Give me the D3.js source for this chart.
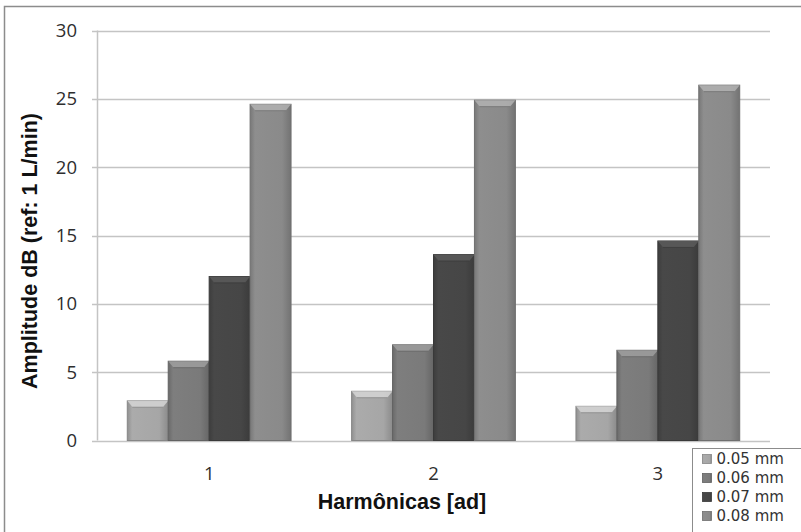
<!doctype html>
<html>
<head>
    <meta charset="utf-8">
    <title>Harmônicas</title>
    <style>
        body { margin: 0; background: #fff; }
        svg { display: block; }
        .tick-label { font-family: "Open Sans", sans-serif; font-size: 18.5px; fill: #2e2e2e; }
        .axis-title { font-family: "Liberation Sans", Arial, sans-serif; font-weight: bold; font-size: 21.5px; fill: #111; }
        .legend-label { font-family: "DejaVu Sans", sans-serif; font-size: 15px; fill: #333; }
    </style>
</head>
<body>
    <div id="chart"></div>

    <script src="https://cdn.jsdelivr.net/npm/d3@7"></script>
    <script>
        var categories = ['1', '2', '3'];
        var series = ['0.05 mm', '0.06 mm', '0.07 mm', '0.08 mm'];
        var values = [
            [2.9, 5.8, 12.0, 24.6],
            [3.6, 7.0, 13.6, 24.9],
            [2.5, 6.6, 14.6, 26.0]
        ];
        var yTicks = [0, 5, 10, 15, 20, 25, 30];
        var colors = ['#a6a6a6', '#7a7a7a', '#464646', '#8a8a8a'];

        var svg_width = 801;
        var svg_height = 532;
        var plot = { left: 97, right: 770, top: 30.5, bottom: 440.5 };

        var svg = d3.select('#chart').append('svg')
            .attr('width', svg_width)
            .attr('height', svg_height);

        var defs = svg.append('defs');

        // horizontal shading for each bar colour
        colors.forEach(function(c, i) {
            var base = d3.color(c);
            var g = defs.append('linearGradient')
                .attr('id', 'grad' + i)
                .attr('x1', '0').attr('x2', '1').attr('y1', '0').attr('y2', '0');
            g.append('stop').attr('offset', '0%').attr('stop-color', base.darker(0.4));
            g.append('stop').attr('offset', '12%').attr('stop-color', base.brighter(0.08));
            g.append('stop').attr('offset', '78%').attr('stop-color', base);
            g.append('stop').attr('offset', '100%').attr('stop-color', base.darker(0.5));
        });

        // outer chart border
        svg.append('rect')
            .attr('x', 4.5).attr('y', 6.5)
            .attr('width', 820).attr('height', 560)
            .attr('fill', 'none')
            .attr('stroke', '#8c8c8c')
            .attr('stroke-width', 1.5);

        var x = d3.scaleBand()
            .domain(categories)
            .range([plot.left, plot.right])
            .paddingInner(0.27)
            .paddingOuter(0.135);

        var xs = d3.scaleBand()
            .domain(series)
            .range([0, x.bandwidth()]);

        var y = d3.scaleLinear()
            .domain([0, 30])
            .range([plot.bottom, plot.top]);

        // gridlines
        svg.append('g')
            .selectAll('line')
            .data(yTicks)
            .enter().append('line')
            .attr('x1', plot.left - 5)
            .attr('x2', plot.right)
            .attr('y1', function(d) { return Math.round(y(d)) + 0.5; })
            .attr('y2', function(d) { return Math.round(y(d)) + 0.5; })
            .attr('stroke', '#c4c4c4')
            .attr('stroke-width', 1.5);

        // y axis line
        svg.append('line')
            .attr('x1', plot.left + 0.5).attr('x2', plot.left + 0.5)
            .attr('y1', plot.top).attr('y2', plot.bottom)
            .attr('stroke', '#c4c4c4')
            .attr('stroke-width', 1.5);

        svg.append('g')
            .selectAll('text')
            .data(yTicks)
            .enter().append('text')
            .attr('class', 'tick-label')
            .attr('x', 77)
            .attr('y', function(d) { return y(d); })
            .attr('dy', '0.36em')
            .attr('text-anchor', 'end')
            .text(function(d) { return d; });

        svg.append('g')
            .selectAll('text')
            .data(categories)
            .enter().append('text')
            .attr('class', 'tick-label')
            .attr('x', function(d) { return x(d) + x.bandwidth() / 2; })
            .attr('y', 473)
            .attr('dy', '0.36em')
            .attr('text-anchor', 'middle')
            .text(function(d) { return d; });

        // bars
        var groups = svg.append('g')
            .selectAll('g')
            .data(categories)
            .enter().append('g')
            .attr('transform', function(d) { return 'translate(' + x(d) + ',0)'; });

        var bars = groups.selectAll('g.bar')
            .data(function(d, i) {
                return series.map(function(s, j) {
                    return { series: s, index: j, value: values[i][j] };
                });
            })
            .enter().append('g')
            .attr('class', 'bar');

        bars.append('rect')
            .attr('x', function(d) { return xs(d.series); })
            .attr('y', function(d) { return y(d.value); })
            .attr('width', xs.bandwidth())
            .attr('height', function(d) { return y(0) - y(d.value); })
            .attr('fill', function(d) { return 'url(#grad' + d.index + ')'; })
            .attr('stroke', function(d) { return d3.color(colors[d.index]).darker(0.6); })
            .attr('stroke-width', 1);

        // bevel on top of each bar
        bars.append('path')
            .attr('d', function(d) {
                var x0 = xs(d.series), x1 = x0 + xs.bandwidth(), t = y(d.value);
                return 'M' + x0 + ',' + t + 'L' + x1 + ',' + t +
                    'L' + (x1 - 5) + ',' + (t + 6) + 'L' + (x0 + 5) + ',' + (t + 6) + 'Z';
            })
            .attr('fill', function(d) { return d3.color(colors[d.index]).brighter(0.7); })
            .attr('opacity', 0.85);

        bars.append('line')
            .attr('x1', function(d) { return xs(d.series) + 5; })
            .attr('x2', function(d) { return xs(d.series) + xs.bandwidth() - 5; })
            .attr('y1', function(d) { return y(d.value) + 6.5; })
            .attr('y2', function(d) { return y(d.value) + 6.5; })
            .attr('stroke', function(d) { return d3.color(colors[d.index]).darker(0.3); })
            .attr('stroke-width', 1);

        // axis titles
        svg.append('text')
            .attr('class', 'axis-title')
            .attr('x', 402)
            .attr('y', 509)
            .attr('text-anchor', 'middle')
            .text('Harmônicas [ad]');

        svg.append('text')
            .attr('class', 'axis-title')
            .attr('transform', 'translate(37,251) rotate(-90)')
            .attr('text-anchor', 'middle')
            .text('Amplitude dB (ref: 1 L/min)');

        // legend
        var legend = svg.append('g')
            .attr('transform', 'translate(692.5,448.5)');

        legend.append('rect')
            .attr('width', 130).attr('height', 120)
            .attr('fill', '#fff')
            .attr('stroke', '#8c8c8c')
            .attr('stroke-width', 1);

        var items = legend.selectAll('g.item')
            .data(series)
            .enter().append('g')
            .attr('class', 'item')
            .attr('transform', function(d, i) { return 'translate(0,' + (10.5 + i * 19) + ')'; });

        items.append('rect')
            .attr('x', 10).attr('y', -4.5)
            .attr('width', 9).attr('height', 9)
            .attr('fill', function(d, i) { return 'url(#grad' + i + ')'; })
            .attr('stroke', function(d, i) { return d3.color(colors[i]).darker(0.6); })
            .attr('stroke-width', 0.8);

        items.append('text')
            .attr('class', 'legend-label')
            .attr('x', 24)
            .attr('dy', '0.36em')
            .text(function(d) { return d; });
    </script>
</body>
</html>
